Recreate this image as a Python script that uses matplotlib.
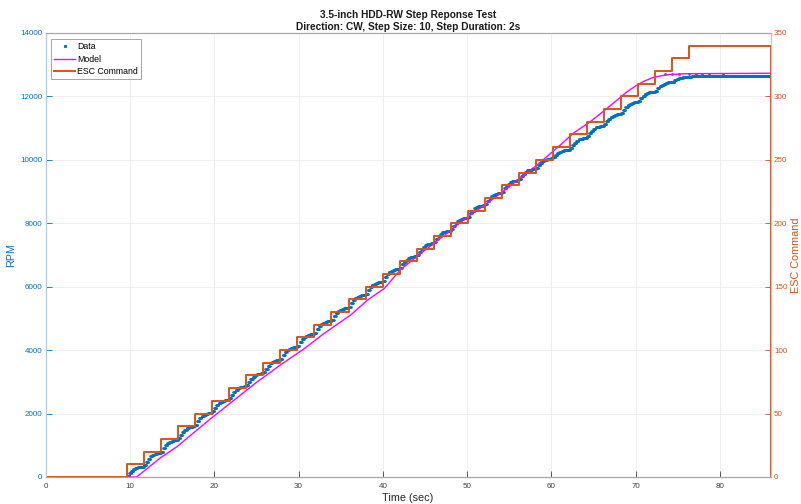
import numpy as np
import matplotlib.pyplot as plt

plt.rcParams['font.family'] = ['Liberation Sans', 'DejaVu Sans']

# ESC command: step times (s) and levels
step_times = [9.65, 11.67, 13.69, 15.72, 17.74, 19.76, 21.78, 23.80, 25.83, 27.85,
              29.87, 31.89, 33.91, 35.94, 37.96, 39.98, 42.00, 44.02, 46.05, 48.07,
              50.09, 52.11, 54.13, 56.16, 58.18, 60.20, 62.22, 64.24, 66.27, 68.29,
              70.31, 72.33, 74.35, 76.38]
esc_levels = [10, 20, 30, 40, 50, 60, 70, 80, 90, 100,
              110, 120, 130, 140, 150, 160, 170, 180, 190, 200,
              210, 220, 230, 240, 250, 260, 270, 280, 290, 300,
              310, 320, 330, 340]
t_end = 86.0

# measured RPM plateau reached in each step
rpm_plateau = [330, 760, 1180, 1600, 2030, 2440, 2860, 3270, 3690, 4100,
               4510, 4920, 5330, 5740, 6150, 6560, 6960, 7370, 7770, 8170,
               8570, 8960, 9350, 9720, 10050, 10320, 10700, 11080, 11450, 11820,
               12150, 12450, 12620, 12650]
# fraction of the step reached, every 0.25 s after a step
rise_frac = [0.1, 0.35, 0.58, 0.74, 0.85, 0.92, 0.97, 1.0]
# a few stray samples in the saturated part
stray_t = [73.5, 74.3, 75.1, 76.3, 77.2, 77.9, 78.7, 80.4]
stray_rpm = [12720, 12700, 12720, 12710, 12720, 12700, 12720, 12700]

# model response
model_t = [0, 10.8, 11.5, 13.6, 15.6, 17.5, 19.5, 22.0, 25.0, 28.0, 30.6, 33.0,
           36.2, 38.2, 40.2, 42.1, 45.0, 47.7, 49.3, 52.9, 56.0, 58.5, 61.2,
           62.6, 64.6, 66.5, 68.0, 69.0, 70.0, 71.0, 72.0, 73.0, 74.0, 76.0, 86.0]
model_rpm = [0, 0, 150, 600, 960, 1380, 1820, 2350, 2980, 3560, 4030, 4520,
             5110, 5580, 5950, 6540, 7150, 7700, 8050, 8730, 9360, 9880, 10500,
             10840, 11200, 11600, 11930, 12150, 12330, 12480, 12590, 12650, 12690,
             12715, 12730]

# build data samples (dashes of quantised readings)
data_t, data_rpm = [], []
for t in np.arange(0, step_times[0], 0.06):
    data_t.append(t); data_rpm.append(0)
prev = 0
ends = step_times[1:] + [t_end]
for t0, t1, p in zip(step_times, ends, rpm_plateau):
    for i, f in enumerate(rise_frac):
        a = t0 + 0.25 * i
        b = t1 if i == len(rise_frac) - 1 else a + 0.25
        for t in np.arange(a, b, 0.06):
            data_t.append(t); data_rpm.append(prev + f * (p - prev))
    prev = p
data_t += stray_t
data_rpm += stray_rpm

blue = '#0072BD'
orange = '#D95319'

fig = plt.figure(figsize=(8.01, 5.04), dpi=100)
ax = fig.add_axes([0.057, 0.0536, 0.905, 0.881])
ax2 = ax.twinx()

h1, = ax.plot(data_t, data_rpm, '.', color=blue, markersize=1.8, label='Data')
h2, = ax.plot(model_t, model_rpm, color='#FF00FF', lw=1.0, label='Model')
esc_t = [0] + step_times + [t_end]
esc_v = [0] + esc_levels + [0]
h3, = ax2.plot(esc_t, esc_v, color=orange, lw=1.4, drawstyle='steps-post',
               label='ESC Command')

ax.set_xlim(0, t_end)
ax.set_ylim(0, 14000)
ax2.set_ylim(0, 350)
ax.set_xticks(range(0, 81, 10))
ax.set_yticks(range(0, 14001, 2000))
ax2.set_yticks(range(0, 351, 50))

ax.grid(True, color='#ebebeb', lw=0.6)
ax.set_axisbelow(True)

for a in (ax, ax2):
    a.tick_params(direction='in', length=4, width=0.6, labelsize=5.8, pad=2.5)
    a.spines['top'].set_color('#a6a6a6')
    a.spines['bottom'].set_color('#a6a6a6')
    a.spines['left'].set_color('#a9cde8')
    a.spines['right'].set_color('#f0b79c')
    for s in a.spines.values():
        s.set_linewidth(0.8)
ax.tick_params(axis='x', colors='#404040', pad=4)
ax.tick_params(axis='y', colors=blue)
ax2.tick_params(axis='y', colors=orange)

ax.set_xlabel('Time (sec)', fontsize=7.8, color='#262626')
ax.xaxis.set_label_coords(0.5, -0.035)
ax.set_ylabel('RPM', fontsize=7.8, color=blue)
ax.yaxis.set_label_coords(-0.041, 0.5)
ax2.set_ylabel('ESC Command', fontsize=7.8, color=orange)
ax2.yaxis.set_label_coords(1.028, 0.5)
ax.set_title('3.5-inch HDD-RW Step Reponse Test\nDirection: CW, Step Size: 10, Step Duration: 2s',
             fontsize=7.3, fontweight='bold', color='#1a1a1a', pad=2, linespacing=1.3)

leg = ax2.legend([h1, h2, h3], ['Data', 'Model', 'ESC Command'], loc='upper left',
                 bbox_to_anchor=(0.005, 0.99), fontsize=6.3, fancybox=False,
                 edgecolor='#a6a6a6', framealpha=1, handlelength=2.4,
                 borderpad=0.35, labelspacing=0.4, handletextpad=0.2, markerscale=1.5,
                 borderaxespad=0.2)
leg.get_frame().set_linewidth(0.7)

fig.savefig('out.png', dpi=100)
